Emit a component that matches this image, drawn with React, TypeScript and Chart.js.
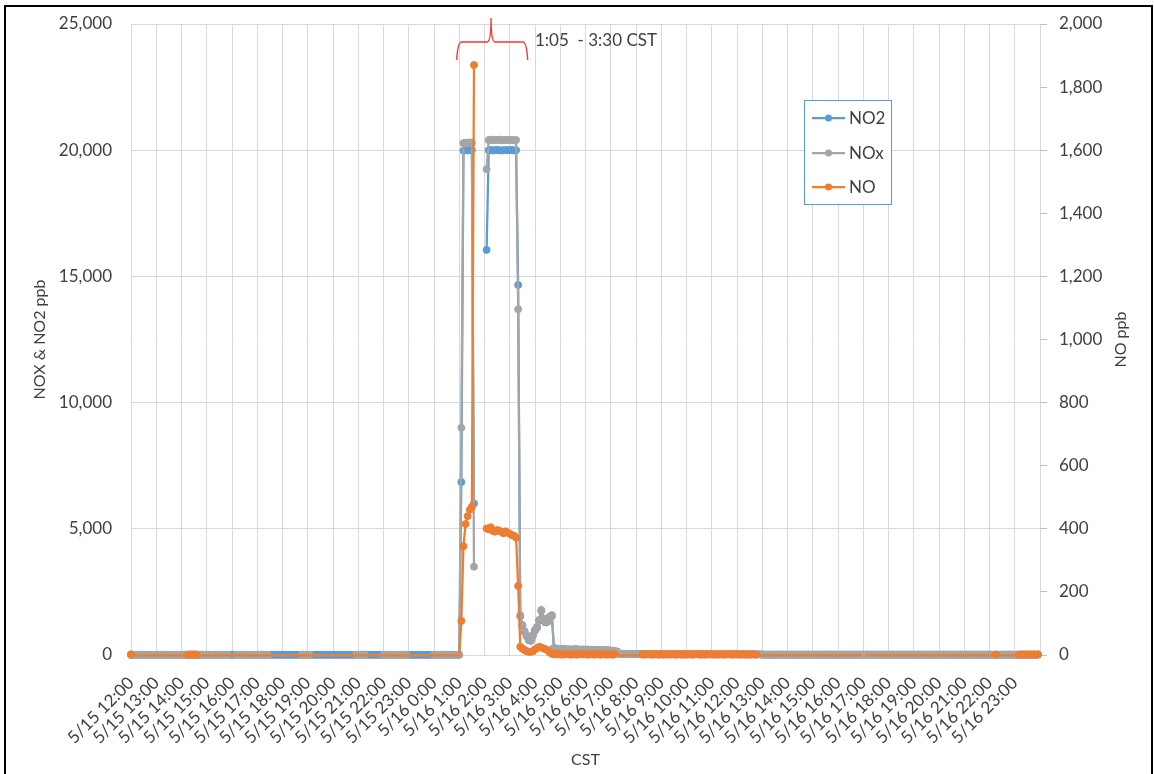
import React, { useEffect, useRef } from 'react';
import { Chart, registerables } from 'chart.js';

Chart.register(...registerables);

// Hourly tick labels (axis spans 5/15 12:00 to 5/17 0:00)
const xLabels = [
  '5/15 12:00', '5/15 13:00', '5/15 14:00', '5/15 15:00', '5/15 16:00', '5/15 17:00',
  '5/15 18:00', '5/15 19:00', '5/15 20:00', '5/15 21:00', '5/15 22:00', '5/15 23:00',
  '5/16 0:00', '5/16 1:00', '5/16 2:00', '5/16 3:00', '5/16 4:00', '5/16 5:00',
  '5/16 6:00', '5/16 7:00', '5/16 8:00', '5/16 9:00', '5/16 10:00', '5/16 11:00',
  '5/16 12:00', '5/16 13:00', '5/16 14:00', '5/16 15:00', '5/16 16:00', '5/16 17:00',
  '5/16 18:00', '5/16 19:00', '5/16 20:00', '5/16 21:00', '5/16 22:00', '5/16 23:00',
];

// samples every 5 minutes, starting 5/15 12:00
const sampleMinutes = 5;

// NO2 (ppb, left axis) – one line per hour, 12 samples each
const no2: (number | null)[] = [
  4, 5, 6, 4, 5, 6, 5, 4, 6, 7, 5, 4,
  5, 6, 4, 6, 7, 5, 4, 6, 6, 5, 4, 4,
  4, 5, 6, 5, 5, 7, 6, 5, 4, 5, 6, 5,
  5, 6, 5, 4, 5, 7, 6, 5, 4, 5, 6, 7,
  8, 7, 6, 5, 5, 6, 7, 5, 5, 6, 5, 5,
  5, 6, 7, 5, 5, 6, 7, 8, 7, 6, 7, 6,
  7, 6, 8, 7, 6, 6, 8, 7, 6, 6, 5, 6,
  6, 7, 7, 8, 6, 7, 8, 8, 7, 6, 8, 7,
  8, 7, 8, 8, 7, 6, 8, 8, 7, 8, 6, 6,
  6, 5, 7, 6, 7, 8, 6, 7, 8, 6, 7, 6,
  5, 6, 5, 5, 7, 6, 5, 5, 6, 7, 5, 5,
  6, 7, 7, 6, 7, 8, 7, 6, 6, 7, 6, 6,
  5, 6, 5, 5, 7, 6, 5, 5, 7, 8, 6, 5,
  6, 6850, 19980, 20000, 19990, 20010, 20000, 6000, null, null, null, null,
  null, 16050, 20000, 20010, 19990, 20000, 20010, 20000, 19990, 20000, 20010, 20000,
  20000, 20010, 19990, 20000, 14660, 1540, 1160, 920, 750, 590, 560, 760,
  970, 1090, 1360, 1750, 1420, 1290, 1320, 1490, 1550, 270, 240, 225,
  215, 225, 220, 205, 210, 200, 205, 215, 210, 200, 195, 200,
  195, 200, 190, 185, 180, 190, 185, 175, 170, 180, 175, 165,
  160, 150, 140, 120, 50, 40, 35, 40, 30, 35, 32, 30,
  32, 30, 28, 30, 32, 30, 28, 26, 30, 28, 26, 28,
  30, 28, 27, 29, 30, 28, 27, 26, 28, 29, 27, 26,
  27, 28, 26, 25, 27, 28, 26, 25, 27, 26, 25, 24,
  25, 26, 24, 25, 26, 24, 23, 25, 26, 24, 23, 24,
  23, 24, 22, 23, 24, 22, 21, 23, 22, 21, 20, 21,
  12, 11, 12, 10, 11, 12, 10, 11, 10, 12, 11, 10,
  11, 10, 12, 11, 10, 11, 12, 10, 11, 10, 12, 11,
  10, 11, 10, 12, 11, 10, 11, 10, 12, 11, 10, 11,
  11, 10, 11, 10, 12, 11, 10, 11, 10, 11, 12, 10,
  10, 11, 12, 10, 11, 10, 11, 12, 10, 11, 10, 11,
  9, 10, 11, 9, 10, 11, 9, 10, 11, 10, 9, 10,
  10, 9, 10, 11, 9, 10, 9, 11, 10, 9, 10, 9,
  9, 10, 9, 10, 11, 9, 10, 9, 10, 9, 11, 10,
  8, 9, 10, 8, 9, 10, 8, 9, 10, 9, 8, 9,
  9, 8, 9, 10, 8, 9, 10, 8, 9, 8, 10, 9,
  8, 9, 8, 9, 10, 8, 9, 8, 9, 10, 8, 9,
];

// NOx (ppb, left axis)
const nox: (number | null)[] = [
  8, 9, 10, 8, 9, 10, 9, 8, 10, 11, 9, 8,
  9, 10, 8, 10, 11, 9, 8, 10, 10, 9, 8, 8,
  8, 9, 10, 9, 9, 11, 10, 9, 8, 9, 10, 9,
  9, 10, 9, 8, 9, 11, 10, 9, 8, 9, 10, -8,
  -9, -7, 10, 9, 9, 10, 11, 9, 9, 10, 9, 9,
  9, 10, 11, 9, 9, 10, -8, -9, -10, -8, -9, -10,
  -9, -10, -8, -9, -10, -8, -9, -10, -9, 11, 10, 11,
  10, 11, -8, -9, -10, -8, -9, -10, -9, -8, -10, -9,
  -8, -9, -10, -8, -9, -10, -8, -9, -10, -8, -9, 12,
  11, 10, 12, 11, -9, -8, -10, -9, -8, -10, -9, -8,
  9, 10, 9, 9, 11, 10, 9, 9, 10, 11, 9, 9,
  -8, -9, -10, -8, -9, -10, -8, -9, -10, -8, -9, -10,
  9, 10, 9, 9, 11, 10, 9, 9, -8, -9, 10, 9,
  10, 9000, 20280, 20300, 20290, 20310, 20300, 3500, null, null, null, null,
  null, 19250, 20400, 20420, 20390, 20410, 20400, 20420, 20390, 20400, 20410, 20400,
  20400, 20410, 20390, 20400, 13700, 1580, 1190, 950, 780, 620, 590, 790,
  1000, 1120, 1390, 1780, 1450, 1320, 1350, 1520, 1580, 290, 260, 245,
  235, 245, 240, 225, 230, 220, 225, 235, 230, 220, 215, 220,
  215, 220, 210, 205, 200, 210, 205, 195, 190, 200, 195, 185,
  180, 170, 160, 140, 60, 50, 45, 50, 40, 45, 42, 40,
  42, 40, 38, 40, 42, 40, 38, 36, 40, 38, 36, 38,
  40, 38, 37, 39, 40, 38, 37, 36, 38, 39, 37, 36,
  37, 38, 36, 35, 37, 38, 36, 35, 37, 36, 35, 34,
  35, 36, 34, 35, 36, 34, 33, 35, 36, 34, 33, 34,
  33, 34, 32, 33, 34, 32, 31, 33, 32, 31, 30, 31,
  20, 19, 20, 18, 19, 20, 18, 19, 18, 20, 19, 18,
  19, 18, 20, 19, 18, 19, 20, 18, 19, 18, 20, 19,
  18, 19, 18, 20, 19, 18, 19, 18, 20, 19, 18, 19,
  19, 18, 19, 18, 20, 19, 18, 19, 18, 19, 20, 18,
  18, 19, 20, 18, 19, 18, 19, 20, 18, 19, 18, 19,
  17, 18, 19, 17, 18, 19, 17, 18, 19, 18, 17, 18,
  18, 17, 18, 19, 17, 18, 17, 19, 18, 17, 18, 17,
  17, 18, 17, 18, 19, 17, 18, 17, 18, 17, 19, 18,
  16, 17, 18, 16, 17, 18, 16, 17, 18, 17, 16, 17,
  17, 16, 17, 18, 16, 17, 18, 16, 17, 16, 18, 17,
  16, 17, 16, 17, 18, 16, 17, 16, 17, 18, 16, 17,
];

// NO (ppb, right axis)
const no: (number | null)[] = [
  2, -1, -1, -1, -1, -1, -1, -1, -1, -1, -1, -1,
  -1, -1, -1, -1, -1, -1, -1, -1, -1, -1, -1, -1,
  -1, -1, -1, 1, 2, 1, 2, 1, -1, -1, -1, -1,
  -1, -1, -1, -1, -1, -1, -1, -1, -1, -1, -1, -1,
  -1, -1, -1, -1, -1, -1, -1, -1, -1, -1, -1, -1,
  -1, -1, -1, -1, -1, -1, -1, -1, -1, -1, -1, -1,
  -1, -1, -1, -1, -1, -1, -1, -1, -1, -1, -1, -1,
  -1, -1, -1, -1, -1, -1, -1, -1, -1, -1, -1, -1,
  -1, -1, -1, -1, -1, -1, -1, -1, -1, -1, -1, -1,
  -1, -1, -1, -1, -1, -1, -1, -1, -1, -1, -1, -1,
  -1, -1, -1, -1, -1, -1, -1, -1, -1, -1, -1, -1,
  -1, -1, -1, -1, -1, -1, -1, -1, -1, -1, -1, -1,
  -1, -1, -1, -1, -1, -1, -1, -1, -1, -1, -1, -1,
  -1, 108, 345, 415, 440, 460, 470, 1870, null, null, null, null,
  null, 401, 398, 405, 393, 391, 396, 394, 390, 386, 392, 388,
  384, 380, 378, 372, 219, 26, 20, 16, 12, 10, 10, 12,
  18, 22, 26, 24, 21, 18, 16, 8, 4, 2, 3, 2,
  2, 1, 2, 3, 2, 1, 2, 2, 1, 2, 3, 2,
  2, 1, 2, 2, 1, 3, 2, 1, 2, 2, 1, 2,
  2, 1, 2, -1, -1, -1, -1, -1, -1, -1, -1, -1,
  -1, -1, -1, 2, 1, 2, 3, 2, 1, 2, 2, 1,
  2, 1, 2, 2, 1, 3, 2, 1, 2, 2, 1, 2,
  1, 2, 2, 1, 2, 3, 2, 1, 2, 1, 2, 2,
  2, 1, 2, 1, 2, 2, 1, 2, 3, 2, 1, 2,
  2, 1, 2, 2, 1, 2, 1, 2, 2, 1, -1, -1,
  -1, -1, -1, -1, -1, -1, -1, -1, -1, -1, -1, -1,
  -1, -1, -1, -1, -1, -1, -1, -1, -1, -1, -1, -1,
  -1, -1, -1, -1, -1, -1, -1, -1, -1, -1, -1, -1,
  -1, -1, -1, -1, -1, -1, -1, -1, -1, -1, -1, -1,
  null, -1, -1, -1, -1, -1, -1, -1, -1, -1, -1, -1,
  -1, -1, -1, -1, -1, -1, -1, -1, -1, -1, -1, -1,
  -1, -1, -1, -1, -1, -1, -1, -1, -1, -1, -1, -1,
  -1, -1, -1, -1, -1, -1, -1, -1, -1, -1, -1, -1,
  -1, -1, -1, -1, -1, -1, -1, -1, -1, -1, -1, -1,
  -1, -1, -1, 1, -1, -1, -1, -1, -1, -1, -1, -1,
  -1, -1, 1, 2, 1, 2, 1, 2, 1, 2, 1, 2,
];

const seriesNames = ['NO2', 'NOx', 'NO'];
const seriesColors = ['#5B9BD5', '#A5A5A5', '#ED7D31'];

const leftTitle = 'NOX & NO2 ppb';
const rightTitle = 'NO ppb';
const xTitle = 'CST';
const noteText = '1:05  - 3:30 CST';

const FONT = 'Lato, "Open Sans", sans-serif';
const TEXT = '#404040';
const GRID = '#D9D9D9';

const toPoints = (vals: (number | null)[]) =>
  vals.map((v, i) => ({ x: (i * sampleMinutes) / 60, y: v }));

const decorPlugin = {
  id: 'decor',
  afterDraw(chart: any) {
    const { ctx, chartArea: ca, scales } = chart;
    ctx.save();
    // outer frame
    ctx.strokeStyle = '#000';
    ctx.lineWidth = 2;
    ctx.strokeRect(5, 6, 1147, 800);

    // axis titles
    ctx.fillStyle = TEXT;
    ctx.font = `16px ${FONT}`;
    ctx.textAlign = 'center';
    ctx.textBaseline = 'middle';
    const midY = (ca.top + ca.bottom) / 2;
    ctx.save();
    ctx.translate(40, midY);
    ctx.rotate(-Math.PI / 2);
    ctx.fillText(leftTitle, 0, 0);
    ctx.restore();
    ctx.save();
    ctx.translate(1121, midY);
    ctx.rotate(-Math.PI / 2);
    ctx.fillText(rightTitle, 0, 0);
    ctx.restore();
    ctx.fillText(xTitle, (ca.left + ca.right) / 2, 760);

    // legend box
    const lx = 804.5, ly = 100.5, lw = 87, lh = 104;
    ctx.fillStyle = '#fff';
    ctx.fillRect(lx, ly, lw, lh);
    ctx.strokeStyle = '#5B9BD5';
    ctx.lineWidth = 1;
    ctx.strokeRect(lx, ly, lw, lh);
    const rowsY = [118, 153, 187];
    chart.data.datasets.forEach((ds: any, i: number) => {
      const y = rowsY[i];
      ctx.strokeStyle = ds.borderColor;
      ctx.lineWidth = 2.25;
      ctx.beginPath();
      ctx.moveTo(812, y);
      ctx.lineTo(845, y);
      ctx.stroke();
      ctx.fillStyle = ds.borderColor;
      ctx.beginPath();
      ctx.arc(828.5, y, 3.5, 0, Math.PI * 2);
      ctx.fill();
      ctx.fillStyle = TEXT;
      ctx.font = `17px ${FONT}`;
      ctx.textAlign = 'left';
      ctx.textBaseline = 'middle';
      ctx.fillText(ds.label, 849, y + 1);
    });

    // bracket annotation
    const xs = scales.x;
    const xl = xs.getPixelForValue(12.9);
    const xr = xs.getPixelForValue(15.71);
    const xm = xs.getPixelForValue(14.26);
    ctx.strokeStyle = '#F0393A';
    ctx.lineWidth = 1.4;
    ctx.beginPath();
    ctx.moveTo(xl, 60);
    ctx.quadraticCurveTo(xl + 1, 42, xl + 5, 42);
    ctx.lineTo(xm - 4, 42);
    ctx.quadraticCurveTo(xm, 42, xm, 18);
    ctx.quadraticCurveTo(xm, 42, xm + 4, 42);
    ctx.lineTo(xr - 5, 42);
    ctx.quadraticCurveTo(xr - 1, 42, xr, 60);
    ctx.stroke();

    ctx.fillStyle = TEXT;
    ctx.font = `17px ${FONT}`;
    ctx.textAlign = 'left';
    ctx.textBaseline = 'alphabetic';
    ctx.fillText(noteText, 535, 46);
    ctx.restore();
  },
};

export default function App() {
  const ref = useRef<HTMLCanvasElement | null>(null);

  useEffect(() => {
    if (!ref.current) return;
    const radius = (c: any) => {
      const y = c.parsed ? c.parsed.y : null;
      return y == null || y < 0 ? 0 : 3.5;
    };
    const series = [no2, nox, no];
    const chart = new Chart(ref.current, {
      type: 'line',
      data: {
        datasets: series.map((vals, i) => ({
          label: seriesNames[i],
          data: toPoints(vals),
          borderColor: seriesColors[i],
          backgroundColor: seriesColors[i],
          pointBackgroundColor: seriesColors[i],
          pointBorderColor: seriesColors[i],
          borderWidth: 2.25,
          pointRadius: radius,
          pointBorderWidth: 1,
          pointHoverRadius: radius,
          tension: 0,
          spanGaps: false,
          clip: false as any,
          yAxisID: i === 2 ? 'y1' : 'y',
          order: 3 - i,
        })),
      },
      options: {
        responsive: false,
        animation: false,
        events: [],
        layout: { padding: { top: 24, left: 0, right: 0, bottom: 0 } },
        plugins: { legend: { display: false }, tooltip: { enabled: false } },
        scales: {
          x: {
            type: 'linear',
            min: 0,
            max: 36,
            afterFit: (s: any) => { s.height = 119; },
            ticks: {
              stepSize: 1,
              autoSkip: false,
              maxRotation: 45,
              minRotation: 45,
              padding: 18,
              color: TEXT,
              font: { family: FONT, size: 17 },
              callback: (v: any) => xLabels[v] ?? '',
            },
            grid: { color: GRID, drawTicks: false },
            border: { display: false },
          },
          y: {
            position: 'left',
            min: 0,
            max: 25000,
            afterFit: (s: any) => { s.width = 131; },
            ticks: {
              stepSize: 5000,
              padding: 0,
              color: TEXT,
              font: { family: FONT, size: 17 },
              callback: (v: any) => Number(v).toLocaleString('en-US'),
            },
            grid: { color: GRID, drawTicks: true, tickLength: 19, tickColor: 'rgba(0,0,0,0)' },
            border: { display: false },
          },
          y1: {
            position: 'right',
            min: 0,
            max: 2000,
            afterFit: (s: any) => { s.width = 114; },
            ticks: {
              stepSize: 200,
              padding: 12,
              color: TEXT,
              font: { family: FONT, size: 17 },
              callback: (v: any) => Number(v).toLocaleString('en-US'),
            },
            grid: { drawOnChartArea: false, tickLength: 7, color: '#BFBFBF' },
            border: { display: false },
          },
        },
      } as any,
      plugins: [decorPlugin],
    });
    return () => chart.destroy();
  }, []);

  return (
    <div style={{ position: 'absolute', left: 0, top: 0, width: 1154, height: 774, background: '#fff' }}>
      <canvas ref={ref} width={1154} height={774} style={{ display: 'block', width: 1154, height: 774 }} />
    </div>
  );
}
